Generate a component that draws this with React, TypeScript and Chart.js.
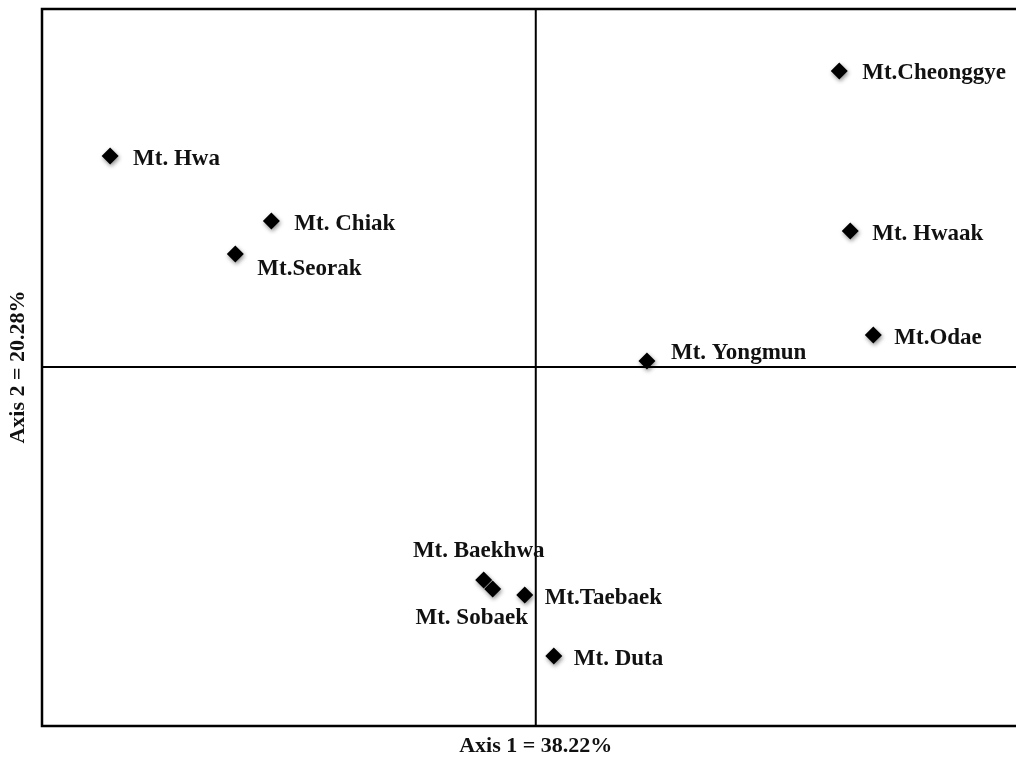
import React, { useEffect, useRef } from "react";
import { Chart, registerables } from "chart.js";

Chart.register(...registerables);

const siteNames = [
  "Mt. Hwa", "Mt. Chiak", "Mt.Seorak", "Mt.Cheonggye", "Mt. Hwaak", "Mt.Odae",
  "Mt. Yongmun", "Mt. Baekhwa", "Mt. Sobaek", "Mt.Taebaek", "Mt. Duta",
];
const axis1Scores = [-4.25, -2.64, -3.0, 3.03, 3.14, 3.37, 1.11, -0.52, -0.43, -0.11, 0.18];
const axis2Scores = [2.11, 1.46, 1.13, 2.96, 1.36, 0.32, 0.06, -2.13, -2.22, -2.28, -2.89];
const axis1Title = "Axis 1 = 38.22%";
const axis2Title = "Axis 2 = 20.28%";

// label placement: [dx, dy, align]
const labelOffsets: [number, number, CanvasTextAlign][] = [
  [23, 3, "left"], [23, 3, "left"], [22, 15, "left"], [23, 2, "left"], [22, 3, "left"],
  [21, 3, "left"], [24, -8, "left"], [-5, -29, "center"], [-21, 29, "center"],
  [20, 3, "left"], [20, 3, "left"],
];

const FONT = '"Liberation Serif", "Times New Roman", serif';

const framePlugin = {
  id: "frame",
  beforeDatasetsDraw(chart: any) {
    const { ctx, chartArea: a, scales, width } = chart;
    ctx.save();
    ctx.strokeStyle = "#000";
    ctx.lineWidth = 2.5;
    ctx.beginPath();
    ctx.moveTo(width + 5, a.top);
    ctx.lineTo(a.left, a.top);
    ctx.lineTo(a.left, a.bottom);
    ctx.lineTo(width + 5, a.bottom);
    ctx.stroke();
    const x0 = scales.x.getPixelForValue(0);
    const y0 = scales.y.getPixelForValue(0);
    ctx.lineWidth = 2;
    ctx.beginPath();
    ctx.moveTo(x0, a.top);
    ctx.lineTo(x0, a.bottom);
    ctx.moveTo(a.left, y0);
    ctx.lineTo(width + 5, y0);
    ctx.stroke();
    // axis titles
    ctx.fillStyle = "#111";
    ctx.font = `bold 22px ${FONT}`;
    ctx.textAlign = "center";
    ctx.textBaseline = "middle";
    ctx.fillText(axis1Title, x0, a.bottom + 20);
    ctx.translate(18, y0);
    ctx.rotate(-Math.PI / 2);
    ctx.fillText(axis2Title, 0, 0);
    ctx.restore();
  },
  beforeDatasetDraw(chart: any) {
    const { ctx } = chart;
    ctx.save();
    ctx.shadowColor = "rgba(0,0,0,0.45)";
    ctx.shadowBlur = 4;
    ctx.shadowOffsetX = 1;
    ctx.shadowOffsetY = 2;
  },
  afterDatasetDraw(chart: any) {
    chart.ctx.restore();
  },
  afterDatasetsDraw(chart: any) {
    const { ctx } = chart;
    const meta = chart.getDatasetMeta(0);
    ctx.save();
    ctx.fillStyle = "#111";
    ctx.font = `bold 23px ${FONT}`;
    ctx.textBaseline = "middle";
    meta.data.forEach((pt: any, i: number) => {
      const [dx, dy, align] = labelOffsets[i];
      ctx.textAlign = align;
      ctx.fillText(siteNames[i], pt.x + dx, pt.y + dy);
    });
    ctx.restore();
  },
};

export default function App() {
  const ref = useRef<HTMLCanvasElement>(null);
  useEffect(() => {
    document.body.style.margin = "0";
    const chart = new Chart(ref.current!, {
      type: "scatter",
      data: {
        datasets: [
          {
            data: axis1Scores.map((x, i) => ({ x, y: axis2Scores[i] })),
            pointStyle: "rectRot",
            pointRadius: 8.5,
            backgroundColor: "#000",
            borderColor: "#000",
            borderWidth: 0,
          },
        ],
      },
      options: {
        animation: false,
        responsive: false,
        layout: { padding: { left: 42, top: 9, right: 0, bottom: 32 } },
        plugins: { legend: { display: false }, tooltip: { enabled: false } },
        scales: {
          x: { display: false, min: -4.93, max: 4.71 },
          y: { display: false, min: -3.59, max: 3.58 },
        },
      },
      plugins: [framePlugin],
    });
    return () => chart.destroy();
  }, []);
  return <canvas ref={ref} width={1016} height={758} style={{ display: "block" }} />;
}
